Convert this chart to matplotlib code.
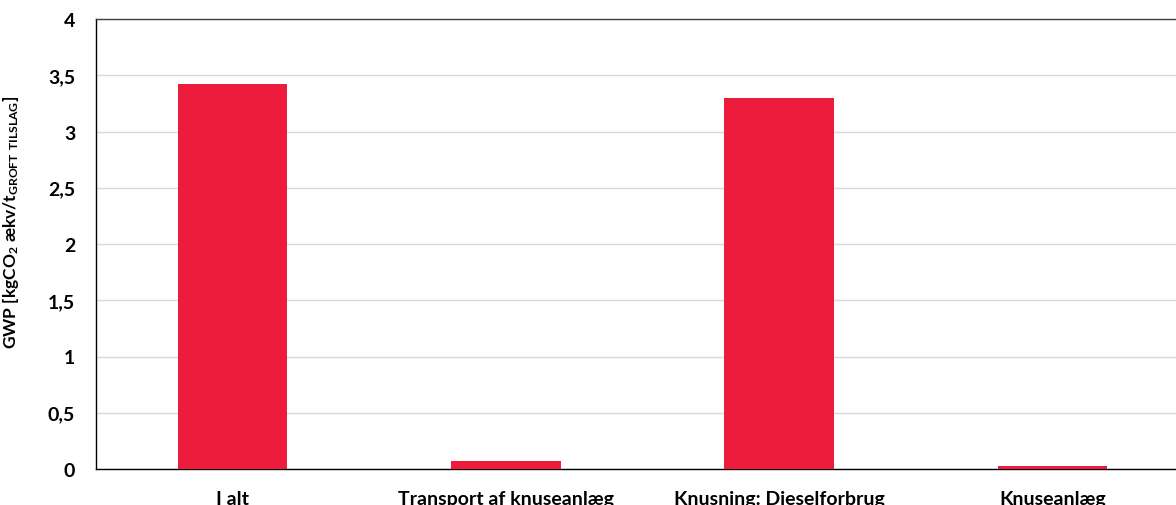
import matplotlib
matplotlib.use("Agg")
import matplotlib.pyplot as plt
from matplotlib.ticker import FuncFormatter

categories = ["I alt", "Transport af knuseanlæg", "Knusning: Dieselforbrug", "Knuseanlæg"]
gwp = [3.42, 0.07, 3.30, 0.03]
y_ticks = [0, 0.5, 1, 1.5, 2, 2.5, 3, 3.5, 4]

plt.rcParams["font.family"] = ["Lato", "DejaVu Sans"]
plt.rcParams["font.weight"] = "bold"
plt.rcParams["mathtext.fontset"] = "custom"
plt.rcParams["mathtext.rm"] = "Lato:bold"
plt.rcParams["mathtext.bf"] = "Lato:bold"
plt.rcParams["mathtext.default"] = "rm"

fig = plt.figure(figsize=(11.76, 5.06), dpi=100)
ax = fig.add_axes([96 / 1176, 1 - 470 / 506, 1093 / 1176, 450 / 506])

x = range(len(categories))
ax.bar(x, gwp, width=0.4, color="#ED1C3C", zorder=3)

ax.set_xlim(-0.5, len(categories) - 0.5)
ax.set_ylim(0, 4)
ax.set_yticks(y_ticks)
ax.yaxis.set_major_formatter(FuncFormatter(lambda v, p: f"{v:g}".replace(".", ",")))
ax.set_xticks(list(x))
ax.set_xticklabels(categories, fontsize=14, fontweight="bold")
ax.tick_params(axis="y", length=0, pad=15, labelsize=14)
ax.tick_params(axis="x", length=0, pad=15)
for lab in ax.get_yticklabels():
    lab.set_fontweight("bold")

ax.grid(axis="y", color="#d9d9d9", linewidth=1, zorder=0)
for s in ax.spines.values():
    s.set_color("#404040")
    s.set_linewidth(1)
ax.spines["left"].set_color("#000000")
ax.spines["bottom"].set_color("#000000")

ax.set_ylabel(r"GWP [kgCO$_{2}$ ækv/t$_{\mathrm{GROFT\ TILSLAG}}$]", fontsize=12.5, fontweight="bold")
ax.yaxis.set_label_coords(-0.069, 0.55)

fig.savefig("out.png", dpi=100)
